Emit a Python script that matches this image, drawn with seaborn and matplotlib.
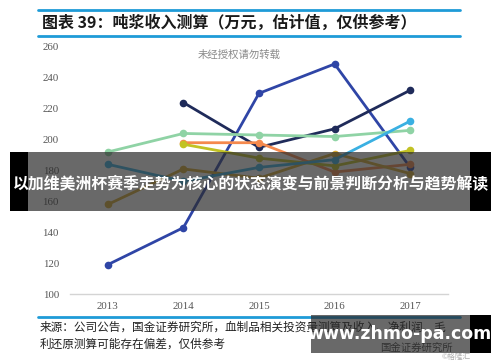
import numpy as np
import pandas as pd
import matplotlib
matplotlib.use("Agg")
import matplotlib.pyplot as plt
from matplotlib.patches import Rectangle
from matplotlib.lines import Line2D
import seaborn as sns

# ---- data ----
years = [2013, 2014, 2015, 2016, 2017]
blue = [119, 143, 230, 249, 182]
navy = [np.nan, 224, 195, 207, 232]
green = [192, 204, 203, 202, 206]
orange = [np.nan, 198, 198, 179, 184]
yellow = [np.nan, 197, 188, 183, 193]
gold = [158, 181, 175, 191, 178]
lightblue = [184, 173, 182, 187, 212]
y_ticks = [100, 120, 140, 160, 180, 200, 220, 240, 260]

series = {"s1": blue, "s2": navy, "s3": green, "s4": orange,
          "s5": yellow, "s6": gold, "s7": lightblue}
colors = {"s1": "#2f45a6", "s2": "#1f2b5a", "s3": "#8fd3a5", "s4": "#f5894d",
          "s5": "#c2c224", "s6": "#d6a932", "s7": "#3ab0e2"}

rows = []
for name, vals in series.items():
    for yr, v in zip(years, vals):
        if not np.isnan(v):
            rows.append({"year": yr, "value": v, "series": name})
df = pd.DataFrame(rows)

sns.set_theme(style="white")
plt.rcParams["font.family"] = ["Noto Sans CJK SC", "DejaVu Sans"]

W, H = 500, 362
fig = plt.figure(figsize=(W / 100, H / 100), dpi=100)
fig.patch.set_facecolor("white")

def fx(px):
    return px / W

def fy(py):
    return 1 - py / H

ax = fig.add_axes([fx(70), fy(294), fx(448) - fx(70), fy(47) - fy(294)])
sns.lineplot(data=df, x="year", y="value", hue="series", palette=colors,
             hue_order=list(series.keys()), marker="o", markersize=5.5,
             markeredgewidth=0, linewidth=2.0, legend=False, errorbar=None, ax=ax)

ax.set_xlim(2012.5, 2017.5)
ax.set_ylim(100, 260)
ax.set_yticks(y_ticks)
ax.set_xticks(years)
ax.set_xticklabels([str(y) for y in years])
ax.set_xlabel("")
ax.set_ylabel("")
for s in ["top", "right", "left"]:
    ax.spines[s].set_visible(False)
ax.spines["bottom"].set_color("#d4d4d4")
ax.spines["bottom"].set_linewidth(1.0)
ax.tick_params(axis="both", length=0, labelsize=7.8, colors="#555555")
ax.tick_params(axis="y", pad=8)
ax.tick_params(axis="x", pad=6)
for lab in ax.get_xticklabels() + ax.get_yticklabels():
    lab.set_fontfamily("Liberation Serif")
ax.set_facecolor("white")
ax.grid(False)

# watermark inside chart
fig.text(fx(198), fy(55), "未经授权请勿转载", fontsize=7.5, color="#8a8a8a",
         va="center", ha="left")

# title with blue rules
blue_rule = "#1e9bd7"
fig.add_artist(Line2D([fx(38), fx(460)], [fy(10), fy(10)], color=blue_rule, lw=2,
                      transform=fig.transFigure))
fig.add_artist(Line2D([fx(38), fx(460)], [fy(36), fy(36)], color=blue_rule, lw=2,
                      transform=fig.transFigure))
fig.text(fx(42), fy(22.5), "图表 39：吨浆收入测算（万元，估计值，仅供参考）",
         fontsize=11.5, fontweight="bold", color="#1a1a1a", va="center", ha="left")

# bottom rule and source text
fig.add_artist(Line2D([fx(38), fx(460)], [fy(317), fy(317)], color=blue_rule, lw=2,
                      transform=fig.transFigure))
fig.text(fx(40), fy(327.5), "来源：公司公告，国金证券研究所，血制品相关投资量测算及收入、净利润、毛",
         fontsize=8.4, color="#222222", va="center", ha="left")
fig.text(fx(40), fy(344), "利还原测算可能存在偏差，仅供参考",
         fontsize=8.4, color="#222222", va="center", ha="left")
fig.text(fx(416), fy(348), "国金证券研究所", fontsize=7.5, color="#444444",
         va="center", ha="center")
fig.text(fx(456), fy(357), "©格隆汇", fontsize=5.5, color="#b0b0b0",
         va="center", ha="center")

# overlay banner
by0, by1 = 152, 210.5
fig.add_artist(Rectangle((fx(10), fy(by1)), fx(28) - fx(10), fy(by0) - fy(by1),
                         transform=fig.transFigure, facecolor="black", edgecolor="none", zorder=10))
fig.add_artist(Rectangle((fx(470), fy(by1)), fx(491) - fx(470), fy(by0) - fy(by1),
                         transform=fig.transFigure, facecolor="black", edgecolor="none", zorder=10))
fig.add_artist(Rectangle((fx(28), fy(by1)), fx(470) - fx(28), fy(by0) - fy(by1),
                         transform=fig.transFigure, facecolor="#2a2a2a", alpha=0.70,
                         edgecolor="none", zorder=10))
fig.text(fx(251), fy(183), "以加维美洲杯赛季走势为核心的状态演变与前景判断分析与趋势解读",
         fontsize=11.4, fontweight="bold", color="white", va="center", ha="center", zorder=11)

# bottom-right watermark box
wy0, wy1 = 315, 353
fig.add_artist(Rectangle((fx(470), fy(wy1)), fx(491) - fx(470), fy(wy0) - fy(wy1),
                         transform=fig.transFigure, facecolor="black", edgecolor="none", zorder=10))
fig.add_artist(Rectangle((fx(311), fy(wy1)), fx(470) - fx(311), fy(wy0) - fy(wy1),
                         transform=fig.transFigure, facecolor="#2a2a2a", alpha=0.70,
                         edgecolor="none", zorder=10))
fig.text(fx(400), fy(334), "www.zhmo-pa.com", fontsize=12.5, fontweight="bold",
         color="white", va="center", ha="center", family="DejaVu Sans", zorder=11)

fig.savefig("out.png", dpi=100, facecolor="white")
